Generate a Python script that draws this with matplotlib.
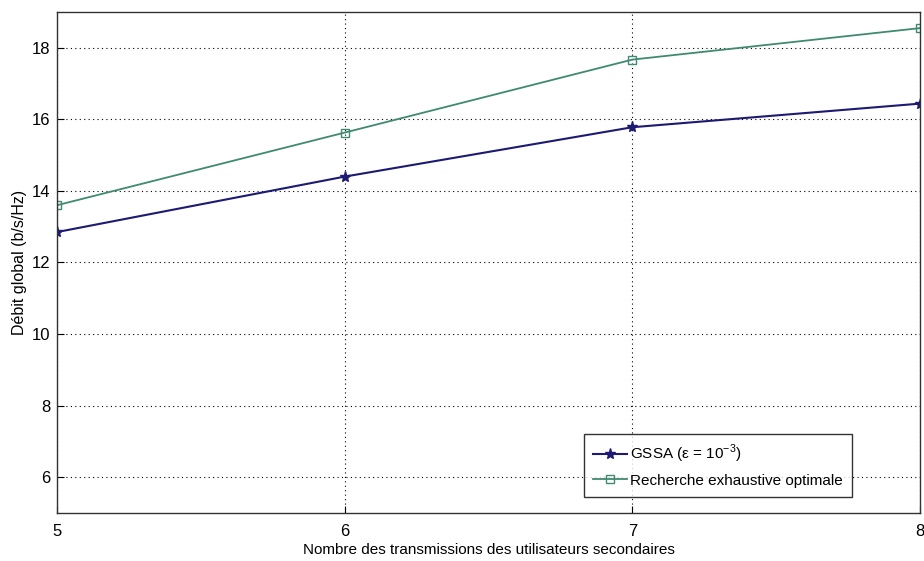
import matplotlib
matplotlib.use("Agg")
import matplotlib.pyplot as plt

plt.rcParams['font.family'] = ['Liberation Sans', 'DejaVu Sans']
plt.rcParams['mathtext.fontset'] = 'custom'
plt.rcParams['mathtext.rm'] = 'Liberation Sans'

x = [5, 6, 7, 8]
gssa = [12.85, 14.4, 15.78, 16.44]
optimal = [13.6, 15.63, 17.67, 18.55]
xticks = [5, 6, 7, 8]
yticks = [6, 8, 10, 12, 14, 16, 18]

fig = plt.figure(figsize=(9.24, 5.61), dpi=100)
ax = fig.add_axes([0.0617, 0.0856, 0.9340, 0.8930])

ax.plot(x, gssa, color='#1c1a72', marker='*', markersize=8, linewidth=1.5,
        label='GSSA (ε = 10$^{\\mathrm{-3}}$)')
ax.plot(x, optimal, color='#3f8a70', marker='s', markersize=6, markerfacecolor='none',
        linewidth=1.3, label='Recherche exhaustive optimale')

ax.set_xlim(5, 8)
ax.set_ylim(5, 19)
ax.set_xticks(xticks)
ax.set_yticks(yticks)
ax.grid(True, linestyle=(0, (1, 3)), color='black', linewidth=0.8)
ax.tick_params(direction='in', labelsize=12, length=5)
ax.tick_params(axis='x', pad=8)
ax.tick_params(axis='y', pad=5)
for s in ax.spines.values():
    s.set_linewidth(1.0)
    s.set_color('#333333')

ax.set_xlabel('Nombre des transmissions des utilisateurs secondaires', fontsize=11, labelpad=3)
ax.set_ylabel('Débit global (b/s/Hz)', fontsize=11.5, labelpad=3)

leg = ax.legend(loc='lower right', bbox_to_anchor=(0.921, 0.032),
                fontsize=11, frameon=True, fancybox=False,
                edgecolor='black', handlelength=2.2, handletextpad=0.2,
                borderpad=0.6, labelspacing=0.55, borderaxespad=0)
leg.get_frame().set_linewidth(1.0)

fig.savefig('out.png', dpi=100)
